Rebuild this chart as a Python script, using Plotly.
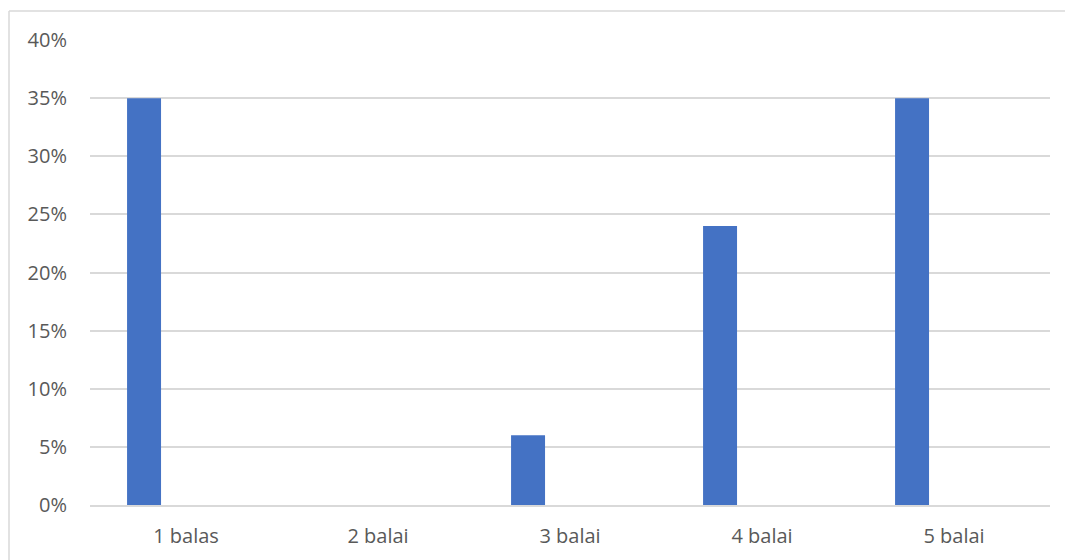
import plotly.graph_objects as go

categories = ["1 balas", "2 balai", "3 balai", "4 balai", "5 balai"]
shares = [0.35, 0.0, 0.06, 0.24, 0.35]
y_ticks = [0, 0.05, 0.10, 0.15, 0.20, 0.25, 0.30, 0.35, 0.40]
y_tick_labels = ["0%", "5%", "10%", "15%", "20%", "25%", "30%", "35%", "40%"]

W, H = 1065, 560
ML, MR, MT, MB = 90, 15, 40, 55
PW, PH = W - ML - MR, H - MT - MB

def px_x(px):
    return (px - ML) / PW

def px_y(py):
    return (H - MB - py) / PH

text_font = dict(family="'Open Sans', 'Noto Sans', sans-serif", size=20, color="#595959")

fig = go.Figure()
fig.add_trace(go.Bar(
    x=categories,
    y=shares,
    marker=dict(color="#4472c4", line=dict(width=0)),
    width=0.177,
    offset=-0.307,
    hoverinfo="x+y",
))

fig.update_layout(
    width=W, height=H,
    margin=dict(l=ML, r=MR, t=MT, b=MB, pad=0),
    plot_bgcolor="white",
    paper_bgcolor="white",
    showlegend=False,
    font=text_font,
    xaxis=dict(
        range=[-0.5, 4.5],
        showgrid=False,
        showline=True, linecolor="#d9d9d9", linewidth=1.5,
        ticks="", tickfont=text_font,
        ticklabelstandoff=12,
    ),
    yaxis=dict(
        range=[0, 0.40],
        tickvals=y_ticks,
        ticktext=y_tick_labels,
        showgrid=True, gridcolor="#d9d9d9", gridwidth=1.5,
        zeroline=False,
        showline=False,
        ticks="", tickfont=text_font,
        ticklabelstandoff=22,
    ),
    shapes=[
        dict(type="line", xref="paper", yref="paper",
             x0=px_x(9), x1=px_x(1065), y0=px_y(11), y1=px_y(11),
             line=dict(color="#d9d9d9", width=1.5)),
        dict(type="line", xref="paper", yref="paper",
             x0=px_x(9), x1=px_x(9), y0=px_y(11), y1=px_y(560),
             line=dict(color="#d9d9d9", width=1.5)),
    ],
)

fig.write_html("out.html")
